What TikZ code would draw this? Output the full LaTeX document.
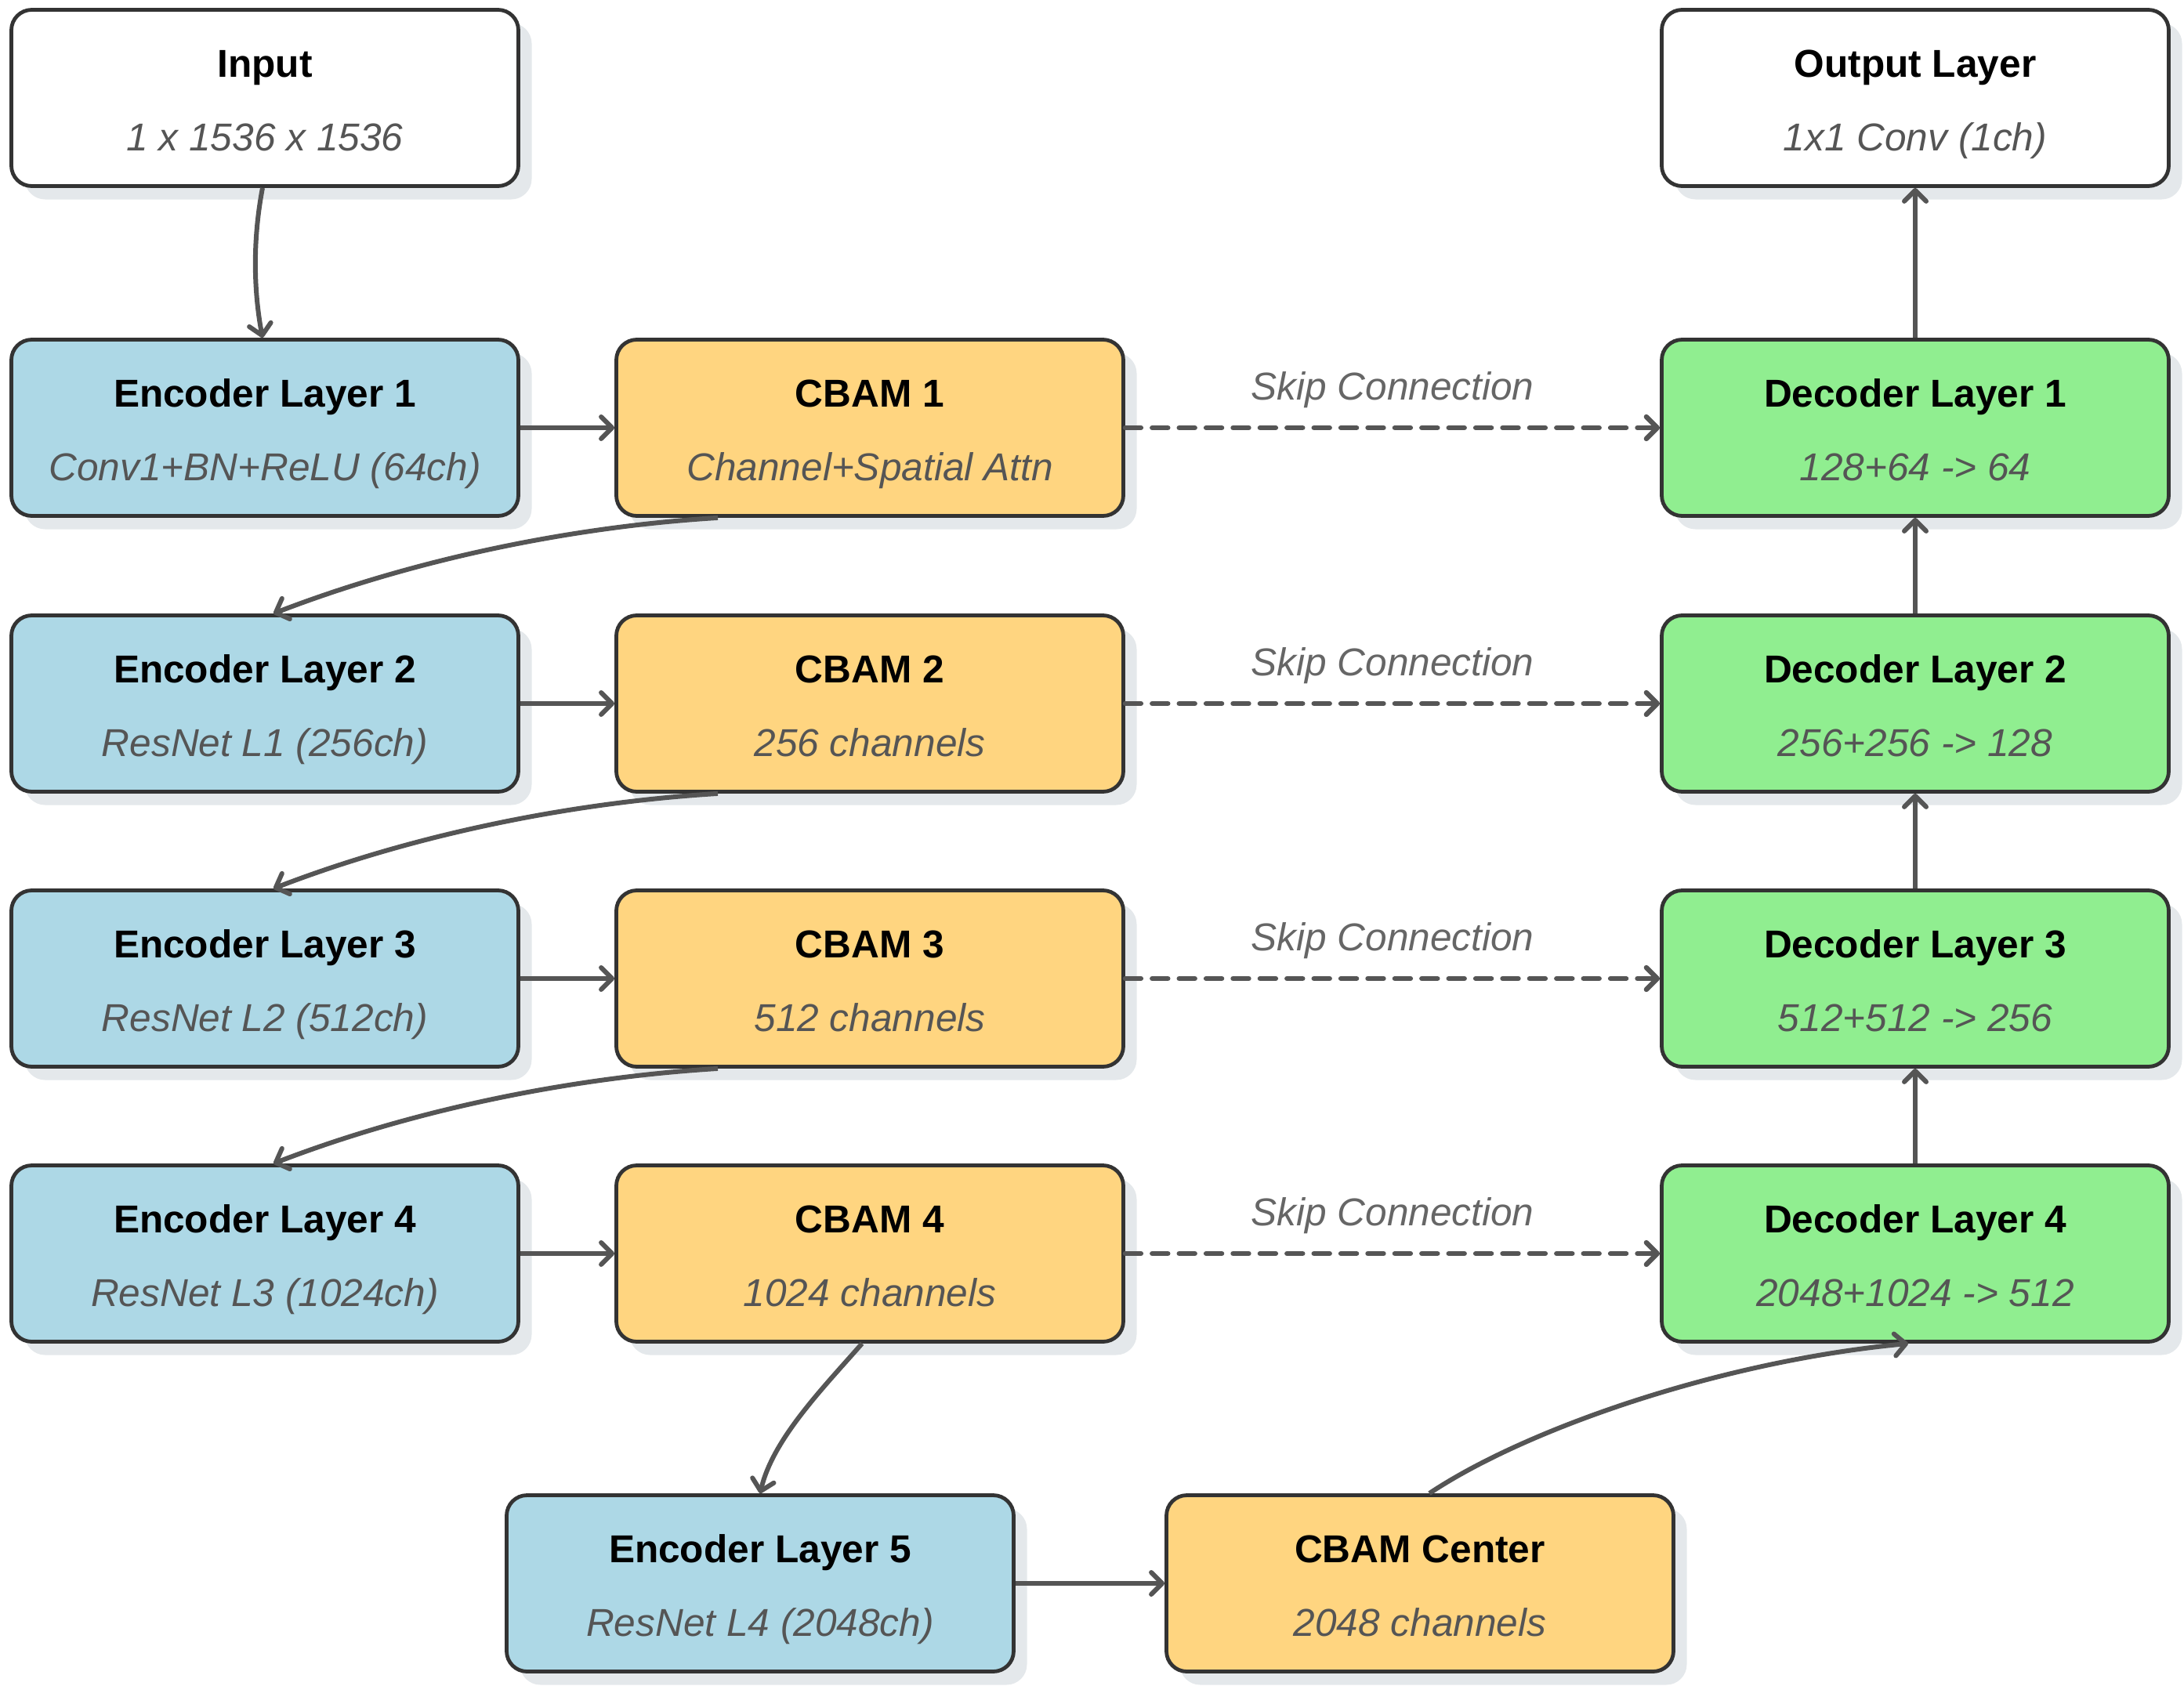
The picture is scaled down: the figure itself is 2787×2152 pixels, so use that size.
\documentclass[tikz,border=0pt]{standalone}
\usepackage{fontspec}
\setmainfont{Liberation Sans}
\usetikzlibrary{arrows.meta,calc}
\definecolor{encblue}{HTML}{ADD8E6}
\definecolor{cbamor}{HTML}{FFD580}
\definecolor{decgreen}{HTML}{90EE90}
\definecolor{shadowc}{HTML}{E4E8EB}
\definecolor{borderc}{HTML}{333333}
\definecolor{linec}{HTML}{555555}
\definecolor{subc}{HTML}{555555}
\definecolor{skipc}{HTML}{666666}
\tikzset{
 blockbox/.style={rectangle, rounded corners=6.5pt, minimum width=161.75pt, minimum height=56.25pt, draw=borderc, line width=1.2pt, inner sep=0pt},
 shadowbox/.style={rectangle, rounded corners=6.5pt, minimum width=161.75pt, minimum height=56.25pt, fill=shadowc, inner sep=0pt},
 titletext/.style={anchor=base, font=\fontsize{12.4pt}{15pt}\selectfont\bfseries, text=black, inner sep=0pt},
 subtext/.style={anchor=base, font=\fontsize{12.4pt}{15pt}\selectfont\itshape, text=subc, inner sep=0pt},
 conn/.style={draw=linec, line width=1.5pt, -{Straight Barb[length=3.5pt,width=7pt,round]}},
 skipconn/.style={conn, line width=1.6pt, dash pattern=on 5pt off 3.6pt, line cap=round},
 skiplabel/.style={anchor=center, font=\fontsize{12.4pt}{15pt}\selectfont\itshape, text=skipc, inner sep=0pt},
}
\newcommand{\blk}[6]{%
 \node[shadowbox] (#1-sh) at (#2+17,#3+17) {};
 \node[blockbox, fill=#4] (#1) at (#2,#3) {};
 \node[titletext] (#1-t) at ($(#1.center)+(0,-27)$) {#5};
 \node[subtext] (#1-s) at ($(#1.center)+(0,67)$) {#6};
}
\begin{document}
\begin{tikzpicture}[x=0.25pt, y=-0.25pt]
\useasboundingbox (0,0) rectangle (2787,2152);
\blk{inp}{338}{125}{white}{Input}{1 x 1536 x 1536}
\blk{outp}{2444}{125}{white}{Output Layer}{1x1 Conv (1ch)}
\blk{enc1}{338}{546}{encblue}{Encoder Layer 1}{Conv1+BN+ReLU (64ch)}
\blk{enc2}{338}{898}{encblue}{Encoder Layer 2}{ResNet L1 (256ch)}
\blk{enc3}{338}{1249}{encblue}{Encoder Layer 3}{ResNet L2 (512ch)}
\blk{enc4}{338}{1600}{encblue}{Encoder Layer 4}{ResNet L3 (1024ch)}
\blk{cbam1}{1110}{546}{cbamor}{CBAM 1}{Channel+Spatial Attn}
\blk{cbam2}{1110}{898}{cbamor}{CBAM 2}{256 channels}
\blk{cbam3}{1110}{1249}{cbamor}{CBAM 3}{512 channels}
\blk{cbam4}{1110}{1600}{cbamor}{CBAM 4}{1024 channels}
\blk{dec1}{2444}{546}{decgreen}{Decoder Layer 1}{128+64 -> 64}
\blk{dec2}{2444}{898}{decgreen}{Decoder Layer 2}{256+256 -> 128}
\blk{dec3}{2444}{1249}{decgreen}{Decoder Layer 3}{512+512 -> 256}
\blk{dec4}{2444}{1600}{decgreen}{Decoder Layer 4}{2048+1024 -> 512}
\blk{enc5}{970}{2021}{encblue}{Encoder Layer 5}{ResNet L4 (2048ch)}
\blk{cbamc}{1812}{2021}{cbamor}{CBAM Center}{2048 channels}
% input to encoder 1
\draw[conn] ($(inp.south)+(-3,0)$) .. controls +(-12,63) and +(-12,-64) .. ($(enc1.north)+(-3,0)$);
% encoder -> cbam, skip connections
\foreach \i in {1,2,3,4} {
  \draw[conn] (enc\i.east) -- (cbam\i.west);
  \draw[skipconn] (cbam\i.east) -- (dec\i.west);
  \node[skiplabel] (skip\i) at ($(cbam\i.east)!0.5!(dec\i.west)+(0,-48)$) {Skip Connection};
}
% cbam -> next encoder
\foreach \i/\j in {1/2,2/3,3/4} {
  \draw[conn] ($(cbam\i.south)+(-194,0)$) .. controls +(-196,12) and +(171,-66) .. ($(enc\j.north)+(11,0)$);
}
\draw[conn] ($(cbam4.south)+(-10,0)$) .. controls +(-50,57) and +(16,-69) .. (enc5.north);
\draw[conn] (enc5.east) -- (cbamc.west);
\draw[conn] ($(cbamc.north)+(12,0)$) .. controls +(126,-84) and +(-235,22) .. ($(dec4.south)+(-9,0)$);
% decoder chain
\draw[conn] (dec4.north) -- (dec3.south);
\draw[conn] (dec3.north) -- (dec2.south);
\draw[conn] (dec2.north) -- (dec1.south);
\draw[conn] (dec1.north) -- (outp.south);
\end{tikzpicture}
\end{document}
